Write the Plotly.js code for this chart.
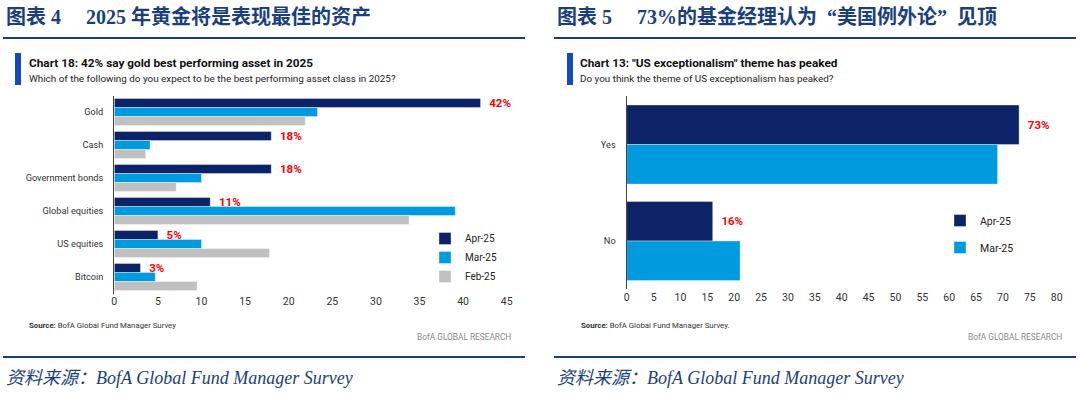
<!DOCTYPE html>
<html><head><meta charset="utf-8">
<script src="https://cdn.plot.ly/plotly-3.0.1.min.js"></script>
<style>html,body{margin:0;padding:0;background:#fff}#chart{width:1080px;height:394px}</style>
</head><body><div id="chart"></div>
<script>
// Left chart: best performing asset class in 2025 (%)
const assetCategories = ['Gold', 'Cash', 'Government bonds', 'Global equities', 'US equities', 'Bitcoin'];
const assetApr25 = [42, 18, 18, 11, 5, 3];
const assetMar25 = [23.3, 4.1, 10, 39.1, 10, 4.7];
const assetFeb25 = [21.9, 3.6, 7.1, 33.8, 17.8, 9.5];

// Right chart: has the US exceptionalism theme peaked? (%)
const peakCategories = ['Yes', 'No'];
const peakApr25 = [73, 16];
const peakMar25 = [69, 21.1];

const seriesNames = ['Apr-25', 'Mar-25', 'Feb-25'];
const leftTicks = [0, 5, 10, 15, 20, 25, 30, 35, 40, 45];
const rightTicks = [0, 5, 10, 15, 20, 25, 30, 35, 40, 45, 50, 55, 60, 65, 70, 75, 80];

const C_APR = '#0c2368', C_MAR = '#009bdf', C_FEB = '#c0c0c0';
const SANS = 'Roboto, "Noto Sans", sans-serif';
const HEAD = '"Liberation Serif", "Noto Sans CJK SC", serif';
const NAVY = '#1b3f7e';
const SP = '\u00a0';

function barTrace(x, y, name, color, axes, legend, withLabel) {
  const t = {
    type: 'bar', orientation: 'h', x: x, y: y, name: name,
    marker: {color: color, line: {color: 'rgba(255,255,255,0.6)', width: 0.6}},
    xaxis: axes[0], yaxis: axes[1], legend: legend, legendgroup: legend + name,
    hoverinfo: 'skip', cliponaxis: false
  };
  if (withLabel) {
    t.text = x.map(v => '  ' + v + '%');
    t.textposition = 'outside';
    t.constraintext = 'none';
    t.textfont = {color: '#ff0000', size: 11.5, family: SANS, weight: 'bold'};
  } else {
    t.textposition = 'none';
  }
  return t;
}

const data = [
  barTrace(assetApr25, assetCategories, seriesNames[0], C_APR, ['x', 'y'], 'legend', true),
  barTrace(assetMar25, assetCategories, seriesNames[1], C_MAR, ['x', 'y'], 'legend', false),
  barTrace(assetFeb25, assetCategories, seriesNames[2], C_FEB, ['x', 'y'], 'legend', false),
  barTrace(peakApr25, peakCategories, seriesNames[0], C_APR, ['x2', 'y2'], 'legend2', true),
  barTrace(peakMar25, peakCategories, seriesNames[1], C_MAR, ['x2', 'y2'], 'legend2', false)
];

function ann(text, x, y, opts) {
  return Object.assign({text: text, x: x / 1080, y: 1 - y / 394, xref: 'paper', yref: 'paper',
    showarrow: false, xanchor: 'left', yanchor: 'middle', align: 'left'}, opts || {});
}
function hline(x0, x1, y, color, w) {
  return {type: 'line', xref: 'paper', yref: 'paper', x0: x0 / 1080, x1: x1 / 1080,
    y0: 1 - y / 394, y1: 1 - y / 394, line: {color: color, width: w}};
}
function rect(x0, x1, y0, y1, color) {
  return {type: 'rect', xref: 'paper', yref: 'paper', x0: x0 / 1080, x1: x1 / 1080,
    y0: 1 - y1 / 394, y1: 1 - y0 / 394, line: {width: 0}, fillcolor: color};
}

const axisX = (domain, ticks, range) => ({
  domain: domain, range: range, tickvals: ticks, ticktext: ticks.map(String),
  showgrid: false, zeroline: false, showline: false, ticks: '', ticklen: 0,
  tickfont: {family: SANS, size: 10.5, color: '#333'}, fixedrange: true
});
const axisY = (domain, anchor) => ({
  domain: domain, anchor: anchor, autorange: 'reversed', showgrid: false, zeroline: false,
  showline: true, linecolor: '#444', linewidth: 1.2, ticks: '', ticklabelstandoff: 8,
  tickfont: {family: SANS, size: 9.2, color: '#333'}, fixedrange: true
});

const layout = {
  width: 1080, height: 394, margin: {l: 0, r: 0, t: 0, b: 0},
  paper_bgcolor: '#fff', plot_bgcolor: '#fff',
  barmode: 'group', bargap: 0.18, bargroupgap: 0,
  xaxis: Object.assign(axisX([114.3 / 1080, 506.7 / 1080], leftTicks, [0, 45]), {anchor: 'y'}),
  yaxis: axisY([1 - 293.5 / 394, 1 - 95.5 / 394], 'x'),
  xaxis2: Object.assign(axisX([626.7 / 1080, 1056.7 / 1080], rightTicks, [0, 80]), {anchor: 'y2'}),
  yaxis2: axisY([1 - 289.3 / 394, 1 - 96.3 / 394], 'x2'),
  legend: {x: 425 / 1080, y: 1 - 224 / 394, xanchor: 'left', yanchor: 'top',
    font: {family: SANS, size: 10, color: '#222'}, bgcolor: 'rgba(0,0,0,0)',
    tracegroupgap: 0, itemwidth: 30},
  legend2: {x: 940 / 1080, y: 1 - 206 / 394, xanchor: 'left', yanchor: 'top',
    font: {family: SANS, size: 10.5, color: '#222'}, bgcolor: 'rgba(0,0,0,0)',
    tracegroupgap: 8, itemwidth: 30},
  shapes: [
    hline(3, 525, 38, NAVY, 2.2), hline(554, 1076, 38, NAVY, 2.2),
    hline(3, 525, 357, NAVY, 2), hline(554, 1076, 357, NAVY, 2),
    rect(15, 21, 53, 85, '#1448c0'), rect(567, 573, 53, 85, '#1448c0')
  ],
  annotations: [
    ann('<b>图表' + SP + '4' + SP.repeat(5) + '2025' + SP + '年黄金将是表现最佳的资产</b>', 4, 16, {font: {family: HEAD, size: 20, color: NAVY}}),
    ann('<b>图表' + SP + '5' + SP.repeat(5) + '73%的基金经理认为' + SP + SP + '“美国例外论”' + SP + SP + '见顶</b>', 555, 16, {font: {family: HEAD, size: 20, color: NAVY}}),
    ann('<b>Chart 18: 42% say gold best performing asset in 2025</b>', 27, 63, {font: {family: SANS, size: 11.8, color: '#111'}}),
    ann('Which of the following do you expect to be the best performing asset class in 2025?', 27, 78, {font: {family: SANS, size: 9.9, color: '#222'}}),
    ann('<b>Chart 13: "US exceptionalism" theme has peaked</b>', 578, 63, {font: {family: SANS, size: 11.8, color: '#111'}}),
    ann('Do you think the theme of US exceptionalism has peaked?', 578, 78, {font: {family: SANS, size: 9.9, color: '#222'}}),
    ann('<b>Source:</b> BofA Global Fund Manager Survey', 27, 325, {font: {family: SANS, size: 7.8, color: '#333'}}),
    ann('<b>Source:</b> BofA Global Fund Manager Survey.', 579, 325, {font: {family: SANS, size: 7.8, color: '#333'}}),
    ann('BofA GLOBAL RESEARCH', 513, 337, {xanchor: 'right', font: {family: SANS, size: 8.3, color: '#8a8a8a'}}),
    ann('BofA GLOBAL RESEARCH', 1064, 337, {xanchor: 'right', font: {family: SANS, size: 8.3, color: '#8a8a8a'}}),
    ann('<i>资料来源：BofA Global Fund Manager Survey</i>', 4, 378, {font: {family: HEAD, size: 18, color: NAVY}}),
    ann('<i>资料来源：BofA Global Fund Manager Survey</i>', 555, 378, {font: {family: HEAD, size: 18, color: NAVY}})
  ]
};

Plotly.newPlot('chart', data, layout, {displayModeBar: false, staticPlot: true});
</script>
</body></html>
